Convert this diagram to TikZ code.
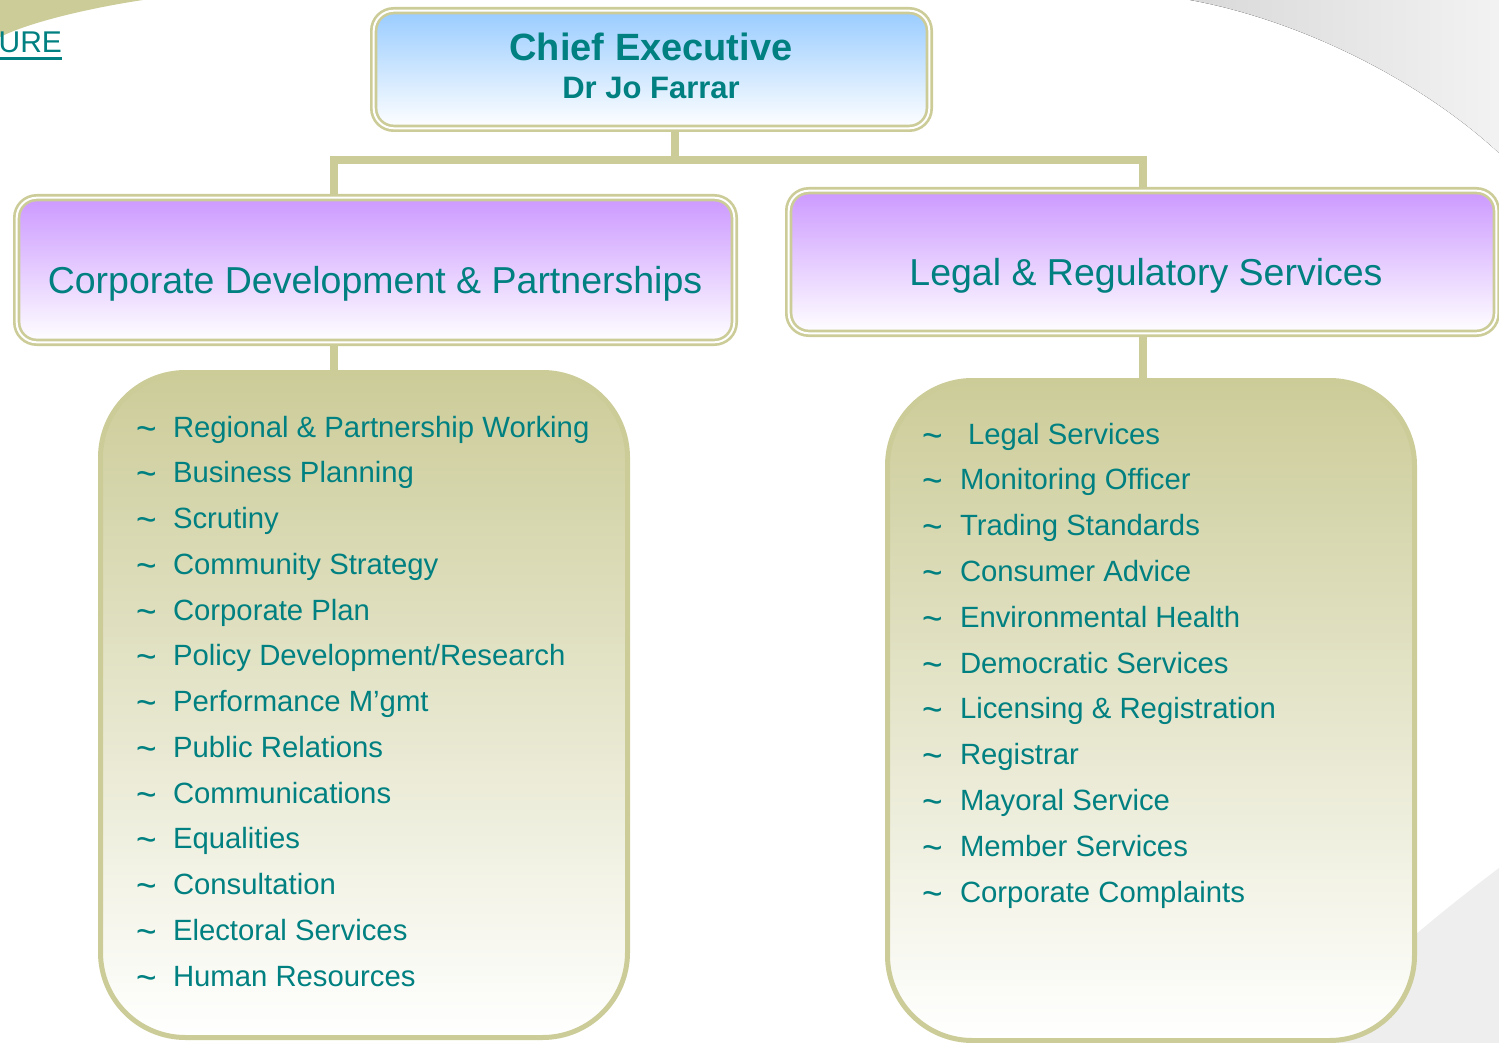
\documentclass[tikz,border=0pt]{standalone}
\usepackage{fontspec}
\setmainfont{Liberation Sans}
\definecolor{tealtext}{HTML}{008080}
\definecolor{olivebd}{HTML}{CCCC99}
\definecolor{lav}{HTML}{CC99FF}
\definecolor{skyb}{HTML}{99CCFF}
\pgfdeclarelayer{back}
\pgfdeclarelayer{conn}
\pgfsetlayers{back,conn,main}
\newcommand{\mytilde}{\raisebox{-4pt}{\scalebox{1.2}[1.3]{\textasciitilde}}}
\begin{document}
\begin{tikzpicture}[x=1pt,y=-1pt,
  every node/.style={inner sep=0pt, outer sep=0pt},
  dblbox/.style={rectangle, draw=olivebd, line width=2.7pt, double=white, double distance=2pt, rounded corners=20pt},
  chiefbox/.style={dblbox, top color=skyb, middle color=skyb!45, bottom color=white},
  headbox/.style={dblbox, top color=lav, middle color=lav!45, bottom color=white},
  listbox/.style={rectangle, draw=olivebd, line width=5pt, rounded corners=85pt, top color=olivebd, middle color=olivebd!45, bottom color=white},
  connline/.style={draw=olivebd, line width=8pt},
  headtext/.style={text=tealtext, font=\fontsize{37.5}{42}\selectfont, anchor=base},
  item/.style={text=tealtext, font=\fontsize{29.3}{34}\selectfont, anchor=base west},
]
\useasboundingbox (0,0) rectangle (1499,1043);
\clip (0,0) rectangle (1499,1043);

% boxes
\node[chiefbox, minimum width=555.6pt, minimum height=117.6pt] (chief) at (651.5,69.5) {};
\node[headbox, minimum width=717.6pt, minimum height=144.6pt] (cdp) at (375.5,270) {};
\node[headbox, minimum width=707.6pt, minimum height=142.6pt] (lrs) at (1142.5,262) {};
\node[listbox, minimum width=527pt, minimum height=665pt] (cdplist) at (364,705) {};
\node[listbox, minimum width=527pt, minimum height=660pt] (lrslist) at (1151,710.5) {};

% titles
\node[text=tealtext, font=\bfseries\fontsize{38}{42}\selectfont, anchor=base] (ce) at (651,61) {Chief Executive};
\node[text=tealtext, font=\bfseries\fontsize{31}{36}\selectfont, anchor=base] (jf) at (651,99) {Dr Jo Farrar};
\node[headtext] (cdpt) at (375,293) {Corporate Development \& Partnerships};
\node[headtext] (lrst) at (1146,285) {Legal \& Regulatory Services};

% left list
\foreach \t [count=\i from 0] in {Regional \& Partnership Working, Business Planning, Scrutiny, Community Strategy, Corporate Plan, Policy Development/Research, Performance M’gmt, Public Relations, Communications, Equalities, Consultation, Electoral Services, Human Resources}
  \node[item] (l\i) at (136,437+45.75*\i) {\makebox[37pt][l]{\mytilde}\t};

% right list
\node[item] (r0) at (922,444) {\makebox[46pt][l]{\mytilde}Legal Services};
\foreach \t [count=\i from 1] in {Monitoring Officer, Trading Standards, Consumer Advice, Environmental Health, Democratic Services, Licensing \& Registration, Registrar, Mayoral Service, Member Services, Corporate Complaints}
  \node[item] (r\i) at (922,444+45.8*\i) {\makebox[38pt][l]{\mytilde}\t};

% URE
\node[text=tealtext, font=\fontsize{30}{34}\selectfont, anchor=base east] (ure) at (62,53) {URE};

\begin{pgfonlayer}{back}
  \fill[olivebd] (0,0) -- (143,0) .. controls (90,8) and (30,22) .. (0,37) -- cycle;
  \fill[left color=gray!30, right color=gray!10] (1190,0) .. controls (1300,20) and (1420,80) .. (1499,153) -- (1499,0) -- cycle;
  \fill[gray!13] (1499,868) .. controls (1450,905) and (1380,960) .. (1300,1043) -- (1499,1043) -- cycle;
\end{pgfonlayer}

\begin{pgfonlayer}{conn}
  \coordinate (jc) at (675,160);
  \coordinate (jl) at (334,160);
  \coordinate (jr) at (1143,160);
  \draw[connline] (chief.south -| jc) -- (jc);
  \draw[connline] (jl |- cdp.north) -- (jl) -- (jr) -- (jr |- lrs.north);
  \draw[connline] (jl |- cdp.south) -- (jl |- cdplist.north);
  \draw[connline] (jr |- lrs.south) -- (jr |- lrslist.north);
  \draw[tealtext, line width=3pt] ([yshift=-5.5pt]ure.base west) -- ([yshift=-5.5pt]ure.base east);
\end{pgfonlayer}
\end{tikzpicture}
\end{document}
